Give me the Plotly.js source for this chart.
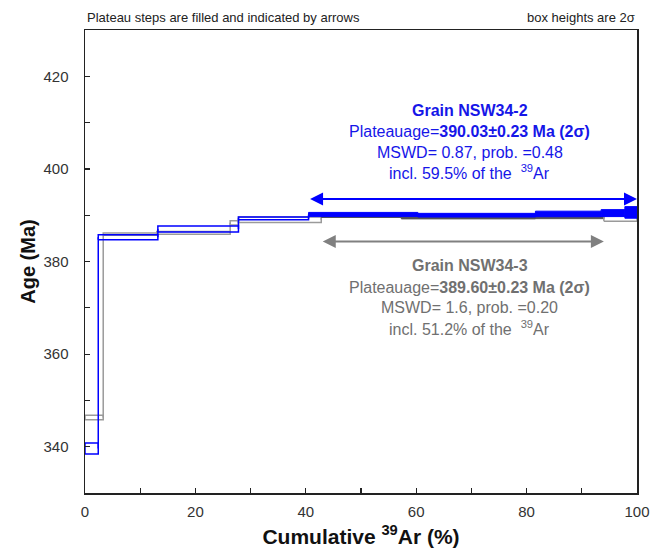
<!DOCTYPE html>
<html>
<head>
<meta charset="utf-8">
<script src="https://cdn.plot.ly/plotly-3.0.1.min.js"></script>
<style>html,body{margin:0;padding:0;background:#fff;}#chart{width:650px;height:548px;}</style>
</head>
<body>
<div id="chart"></div>
<script>
// ---- Data: Grain NSW34-2 (blue) ----
const g2Cum = [0, 2.4, 13.2, 27.8, 40.5, 60.3, 81.6, 93.5, 97.8, 100];
const g2Age = [339.6, 385.25, 387.0, 389.3, 390.15, 390.0, 390.27, 390.45, 390.6];
const g2Err = [1.2, 0.55, 0.65, 0.3, 0.45, 0.4, 0.6, 0.75, 1.25];
const g2Plateau = [false, false, false, false, true, true, true, true, true];

// ---- Data: Grain NSW34-3 (grey) ----
const g3Cum = [0, 3.3, 13.0, 26.3, 27.8, 42.8, 57.3, 81.6, 94.0, 100];
const g3Age = [346.3, 385.9, 386.2, 388.35, 389.0, 389.8, 389.5, 389.5, 389.3];
const g3Err = [0.5, 0.25, 0.3, 0.45, 0.6, 0.3, 0.3, 0.25, 0.6];
const g3Plateau = [false, false, false, false, false, true, true, true, false];

// plateau arrows
const g2ArrowX = [40.5, 100];
const g2ArrowY = 393.5;
const g3ArrowX = [42.8, 94.0];
const g3ArrowY = 384.3;

const xTicks = [0, 20, 40, 60, 80, 100];
const yTicks = [340, 360, 380, 400, 420];

const FONT = 'Liberation Sans, Arial, sans-serif';
const BLUE = '#0000ff';
const BLUE_TXT = '#1616e8';
const GREY_FILL = '#555555';
const GREY_LINE = '#9a9a9a';
const GREY_TXT = '#707070';

function stepTraces(cum, age, err, plateau, fillCol, openCol) {
  const traces = [];
  const cx = [], cy = [];
  for (let i = 1; i < age.length; i++) {
    cx.push(cum[i], cum[i], null);
    cy.push(age[i - 1], age[i], null);
  }
  traces.push({x: cx, y: cy, mode: 'lines', type: 'scatter',
    line: {color: openCol, width: 1.5}, hoverinfo: 'skip'});
  for (let i = 0; i < age.length; i++) {
    const x0 = cum[i], x1 = cum[i + 1];
    const lo = age[i] - err[i], hi = age[i] + err[i];
    const t = {x: [x0, x1, x1, x0, x0], y: [lo, lo, hi, hi, lo],
      mode: 'lines', type: 'scatter', hoverinfo: 'skip'};
    if (plateau[i]) {
      t.fill = 'toself'; t.fillcolor = fillCol;
      t.line = {color: fillCol, width: 1};
    } else {
      t.line = {color: openCol, width: 1.5};
    }
    traces.push(t);
  }
  return traces;
}

const data = [].concat(
  stepTraces(g3Cum, g3Age, g3Err, g3Plateau, GREY_FILL, GREY_LINE),
  stepTraces(g2Cum, g2Age, g2Err, g2Plateau, BLUE, BLUE)
);

function arrow(xs, y, col) {
  return {x: xs[1], y: y, ax: xs[0], ay: y, xref: 'x', yref: 'y', axref: 'x', ayref: 'y',
    text: '', showarrow: true, arrowside: 'end+start', arrowhead: 2, startarrowhead: 2,
    arrowsize: 1.3, startarrowsize: 1.3, arrowwidth: 2, arrowcolor: col};
}
function txt(t, x, y, col, size) {
  return {x: x, y: y, xref: 'x', yref: 'y', text: t, showarrow: false,
    xanchor: 'center', yanchor: 'middle', font: {family: FONT, size: size || 16, color: col}};
}

const annotations = [
  arrow(g2ArrowX, g2ArrowY, BLUE),
  arrow(g3ArrowX, g3ArrowY, '#808080'),
  txt('<b>Grain NSW34-2</b>', 69.7, 412.6, BLUE_TXT),
  txt('Plateauage=<b>390.03±0.23 Ma (2σ)</b>', 69.7, 408.0, BLUE_TXT),
  txt('MSWD= 0.87, prob. =0.48', 69.7, 403.6, BLUE_TXT),
  txt('incl. 59.5% of the  <sup>39</sup>Ar', 69.7, 399.4, BLUE_TXT),
  txt('<b>Grain NSW34-3</b>', 69.7, 379.2, GREY_TXT),
  txt('Plateauage=<b>389.60±0.23 Ma (2σ)</b>', 69.7, 374.4, GREY_TXT),
  txt('MSWD= 1.6, prob. =0.20', 69.7, 370.1, GREY_TXT),
  txt('incl. 51.2% of the  <sup>39</sup>Ar', 69.7, 365.6, GREY_TXT),
  {xref: 'paper', yref: 'paper', x: 0, y: 1.028, xanchor: 'left', yanchor: 'middle',
   text: 'Plateau steps are filled and indicated by arrows', showarrow: false,
   font: {family: FONT, size: 13, color: '#222'}},
  {xref: 'paper', yref: 'paper', x: 1, y: 1.028, xanchor: 'right', yanchor: 'middle',
   text: 'box heights are 2σ', showarrow: false,
   font: {family: FONT, size: 13, color: '#222'}}
];

const axisCommon = {
  showline: true, linecolor: '#222', linewidth: 1.5, mirror: true,
  ticks: 'inside', ticklen: 5, tickwidth: 1.2, tickcolor: '#222',
  showgrid: false, zeroline: false,
  tickfont: {family: FONT, size: 15, color: '#333'}
};

const layout = {
  width: 650, height: 548,
  margin: {l: 85, r: 13, t: 30, b: 55},
  paper_bgcolor: '#fff', plot_bgcolor: '#fff',
  showlegend: false,
  xaxis: Object.assign({}, axisCommon, {
    range: [0, 100], tickvals: xTicks, ticklabeloverflow: 'allow',
    minor: {tickvals: [10, 30, 50, 70, 90], ticks: 'inside', ticklen: 5, tickcolor: '#222', tickwidth: 1.2},
    ticklabelstandoff: 4,
    title: {text: '<b>Cumulative <sup>39</sup>Ar (%)</b>', font: {family: FONT, size: 21, color: '#111'}}
  }),
  yaxis: Object.assign({}, axisCommon, {
    range: [330, 430], tickvals: yTicks,
    minor: {tickvals: [350, 370, 390, 410], ticks: 'inside', ticklen: 5, tickcolor: '#222', tickwidth: 1.2},
    ticklabelstandoff: 12,
    title: {text: '<b>Age (Ma)</b>', font: {family: FONT, size: 20, color: '#111'}}
  }),
  annotations: annotations
};

Plotly.newPlot('chart', data, layout, {displayModeBar: false, staticPlot: true});
</script>
</body>
</html>
